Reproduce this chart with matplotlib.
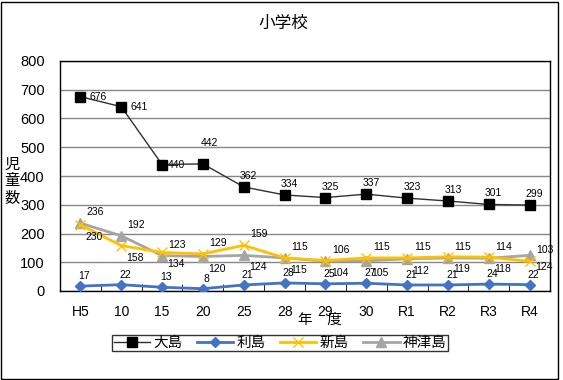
# -*- coding: UTF-8 -*-
'''
小学校 児童数の推移
'''
import matplotlib
matplotlib.use('Agg')
import matplotlib.pyplot as plt
from matplotlib.patches import Rectangle

plt.rcParams['font.family'] = ['Noto Sans CJK JP', 'DejaVu Sans']  # 日本語対応

# データ
years = ['H5', '10', '15', '20', '25', '28', '29', '30', 'R1', 'R2', 'R3', 'R4']
oshima = [676, 641, 440, 442, 362, 334, 325, 337, 323, 313, 301, 299]
toshima = [17, 22, 13, 8, 21, 28, 25, 27, 21, 21, 24, 22]
niijima = [230, 158, 134, 129, 159, 115, 106, 115, 115, 119, 118, 103]
kozushima = [236, 192, 123, 120, 124, 115, 104, 105, 112, 115, 114, 124]

# ラベル位置（t:上 b:下）
pos_nii = ['b', 'b', 'b', 't', 't', 't', 't', 't', 't', 'b', 'b', 't']
pos_koz = ['t', 't', 't', 'b', 'b', 'b', 'b', 'b', 'b', 't', 't', 'b']

num_font = ['Liberation Sans', 'DejaVu Sans']  # 数字用

fig = plt.figure(figsize=(5.63, 3.8), dpi=100)
ax = fig.add_axes([60 / 563, 89 / 380, 490 / 563, 230 / 380])

x = list(range(len(years)))

ax.plot(x, oshima, color='#303030', lw=1, marker='s', ms=6.5,
        mfc='black', mec='black', label='大島', zorder=5)
ax.plot(x, toshima, color='#4472C4', lw=2, marker='D', ms=5.5,
        mfc='#4472C4', mec='#4472C4', label='利島', zorder=4)
ax.plot(x, niijima, color='#FFC000', lw=2, marker='x', ms=7, mew=1,
        label='新島', zorder=3)
ax.plot(x, kozushima, color='#A5A5A5', lw=2, marker='^', ms=7,
        mfc='#A5A5A5', mec='#A5A5A5', label='神津島', zorder=2)

lab_font = dict(fontsize=7.5, family=num_font, ha='center', va='center')

# 大島のラベル
for i, v in enumerate(oshima):
    if i < 2:
        off = (18, 0)
    elif i == 2:
        off = (14, 0)
    elif i == 3:
        off = (7, 21)
    else:
        off = (5, 11)
    ax.annotate(str(v), (i, v), xytext=off, textcoords='offset pixels', **lab_font)

# 利島のラベル
for i, v in enumerate(toshima):
    ax.annotate(str(v), (i, v), xytext=(4, 10), textcoords='offset pixels', **lab_font)

# 新島・神津島のラベル
for vals, pos in [(niijima, pos_nii), (kozushima, pos_koz)]:
    for i, v in enumerate(vals):
        off = (15, 11) if pos[i] == 't' else (14, -12)
        ax.annotate(str(v), (i, v), xytext=off, textcoords='offset pixels', **lab_font)

ax.set_xlim(-0.5, len(years) - 0.5)
ax.set_ylim(0, 800)
ax.set_yticks(range(0, 801, 100))
ax.set_xticks(x)
ax.set_xticklabels(years)
ax.set_xticks([i + 0.5 for i in x[:-1]], minor=True)
ax.tick_params(axis='x', which='major', length=0, pad=10, labelsize=10)
ax.tick_params(axis='x', which='minor', length=5, direction='in', color='black')
ax.tick_params(axis='y', length=0, pad=11, labelsize=10.5)
for lab in ax.get_xticklabels() + ax.get_yticklabels():
    lab.set_family(num_font)

ax.grid(axis='y', color='#888888', lw=1)
ax.set_axisbelow(True)
for s in ax.spines.values():
    s.set_color('black')
    s.set_linewidth(1)

# タイトル・軸ラベル
fig.text(283 / 563, 1 - 23 / 380, '小学校', ha='center', va='center', fontsize=12)
fig.text(320 / 563, 1 - 320 / 380, '年\u3000度', ha='center', va='center', fontsize=10.5)
fig.text(12 / 563, 1 - 181 / 380, '児\n童\n数', ha='center', va='center',
         fontsize=11, linespacing=1.0)

# 凡例
leg = fig.legend(loc='center', bbox_to_anchor=(280 / 563, 1 - 343 / 380), ncol=4,
                 fontsize=10.5, frameon=True, fancybox=False, edgecolor='black',
                 borderpad=0.1, handlelength=2.5, handletextpad=0.2, columnspacing=1.0,
                 borderaxespad=0)
leg.get_frame().set_linewidth(1)

# 外枠
fig.patches.append(Rectangle((0.5 / 563, 1.5 / 380), 557 / 563, 377 / 380,
                             transform=fig.transFigure, fill=False,
                             edgecolor='black', lw=1))

fig.savefig('out.png', dpi=100)
